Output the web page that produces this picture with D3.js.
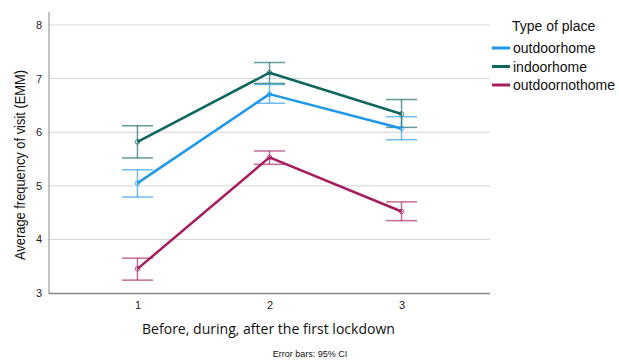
<!DOCTYPE html>
<html><head><meta charset="utf-8">
<script src="https://cdn.jsdelivr.net/npm/d3@7"></script>
<style>body{margin:0;background:#fff}svg{display:block}</style>
</head><body>
<script>
const periods = [1, 2, 3];
const seriesNames = ["outdoorhome", "indoorhome", "outdoornothome"];
const outdoorhome = [5.05, 6.71, 6.07];
const outdoorhomeLo = [4.79, 6.54, 5.86];
const outdoorhomeHi = [5.30, 6.89, 6.29];
const indoorhome = [5.82, 7.11, 6.34];
const indoorhomeLo = [5.52, 6.91, 6.09];
const indoorhomeHi = [6.12, 7.30, 6.61];
const outdoornothome = [3.45, 5.53, 4.52];
const outdoornothomeLo = [3.24, 5.40, 4.35];
const outdoornothomeHi = [3.65, 5.65, 4.70];
const yTicks = [3, 4, 5, 6, 7, 8];
const colors = ["#1f97e8", "#0e665f", "#a51d5c"];

const series = [
  {name: seriesNames[0], v: outdoorhome, lo: outdoorhomeLo, hi: outdoorhomeHi},
  {name: seriesNames[1], v: indoorhome, lo: indoorhomeLo, hi: indoorhomeHi},
  {name: seriesNames[2], v: outdoornothome, lo: outdoornothomeLo, hi: outdoornothomeHi}
];

const W = 619, H = 363;
const svg = d3.select("body").append("svg").attr("width", W).attr("height", H);
const x = d3.scalePoint().domain(periods).range([49, 490]).padding(0.67);
const y = d3.scaleLinear().domain([3, 8]).range([293, 25]);

// gridlines
svg.append("g").selectAll("line").data(yTicks.filter(t => t > 3)).join("line")
  .attr("x1", 49).attr("x2", 490).attr("y1", d => y(d)).attr("y2", d => y(d))
  .attr("stroke", "#d4d4d4").attr("stroke-width", 1);

// axes
const yAxis = d3.axisLeft(y).tickValues(yTicks).tickSize(0).tickPadding(7).tickFormat(d3.format("d"));
const gy = svg.append("g").attr("transform", "translate(49,0)").call(yAxis);
gy.select(".domain").remove();
gy.selectAll("text").attr("font-family", "Liberation Sans, Arial, sans-serif").attr("font-size", 11).attr("fill", "#222");
svg.append("line").attr("x1", 49).attr("x2", 49).attr("y1", 12).attr("y2", 294).attr("stroke", "#888").attr("stroke-width", 1);

const xAxis = d3.axisBottom(x).tickSize(0).tickPadding(8);
const gx = svg.append("g").attr("transform", "translate(0,293)").call(xAxis);
gx.select(".domain").remove();
gx.selectAll("text").attr("font-family", "Liberation Sans, Arial, sans-serif").attr("font-size", 11).attr("fill", "#222");
svg.append("line").attr("x1", 49).attr("x2", 490).attr("y1", 293.5).attr("y2", 293.5).attr("stroke", "#888").attr("stroke-width", 1.5);

// error bars
const cap = 15.5;
series.forEach((s, i) => {
  const g = svg.append("g").attr("stroke", colors[i]).attr("stroke-opacity", 0.65).attr("stroke-width", 1.5);
  periods.forEach((p, j) => {
    g.append("line").attr("x1", x(p)).attr("x2", x(p)).attr("y1", y(s.lo[j])).attr("y2", y(s.hi[j]));
    g.append("line").attr("x1", x(p) - cap).attr("x2", x(p) + cap).attr("y1", y(s.lo[j])).attr("y2", y(s.lo[j]));
    g.append("line").attr("x1", x(p) - cap).attr("x2", x(p) + cap).attr("y1", y(s.hi[j])).attr("y2", y(s.hi[j]));
  });
});

// lines
const line = d3.line().x((d, j) => x(periods[j])).y(d => y(d));
series.forEach((s, i) => {
  svg.append("path").datum(s.v).attr("d", line).attr("fill", "none")
    .attr("stroke", colors[i]).attr("stroke-width", 2.5).attr("stroke-linejoin", "round");
  svg.append("g").selectAll("circle").data(s.v).join("circle")
    .attr("cx", (d, j) => x(periods[j])).attr("cy", d => y(d)).attr("r", 2.3)
    .attr("fill", "none").attr("stroke", colors[i]).attr("stroke-opacity", 0.7).attr("stroke-width", 1);
});

// axis titles
svg.append("text").attr("transform", "translate(25,165) rotate(-90)")
  .attr("text-anchor", "middle").attr("font-family", "Liberation Sans, Arial, sans-serif")
  .attr("font-size", 14.5).attr("textLength", 190).attr("lengthAdjust", "spacingAndGlyphs")
  .attr("fill", "#111").text("Average frequency of visit (EMM)");
svg.append("text").attr("x", 268.5).attr("y", 334).attr("text-anchor", "middle")
  .attr("font-family", "Open Sans, sans-serif").attr("font-size", 14.5)
  .attr("textLength", 253).attr("lengthAdjust", "spacingAndGlyphs").attr("fill", "#111")
  .text("Before, during, after the first lockdown");
svg.append("text").attr("x", 310).attr("y", 357).attr("text-anchor", "middle")
  .attr("font-family", "Liberation Sans, Arial, sans-serif").attr("font-size", 9).attr("fill", "#111")
  .text("Error bars: 95% CI");

// legend
const lg = svg.append("g");
lg.append("text").attr("x", 512).attr("y", 31).attr("font-family", "Liberation Sans, Arial, sans-serif")
  .attr("font-size", 14).attr("fill", "#111").text("Type of place");
series.forEach((s, i) => {
  const yy = 48 + i * 18.5;
  lg.append("line").attr("x1", 492).attr("x2", 510).attr("y1", yy).attr("y2", yy)
    .attr("stroke", colors[i]).attr("stroke-width", 3);
  lg.append("text").attr("x", 513).attr("y", yy + 5).attr("font-family", "Liberation Sans, Arial, sans-serif")
    .attr("font-size", 14).attr("fill", "#111").text(s.name);
});
</script>
</body></html>
